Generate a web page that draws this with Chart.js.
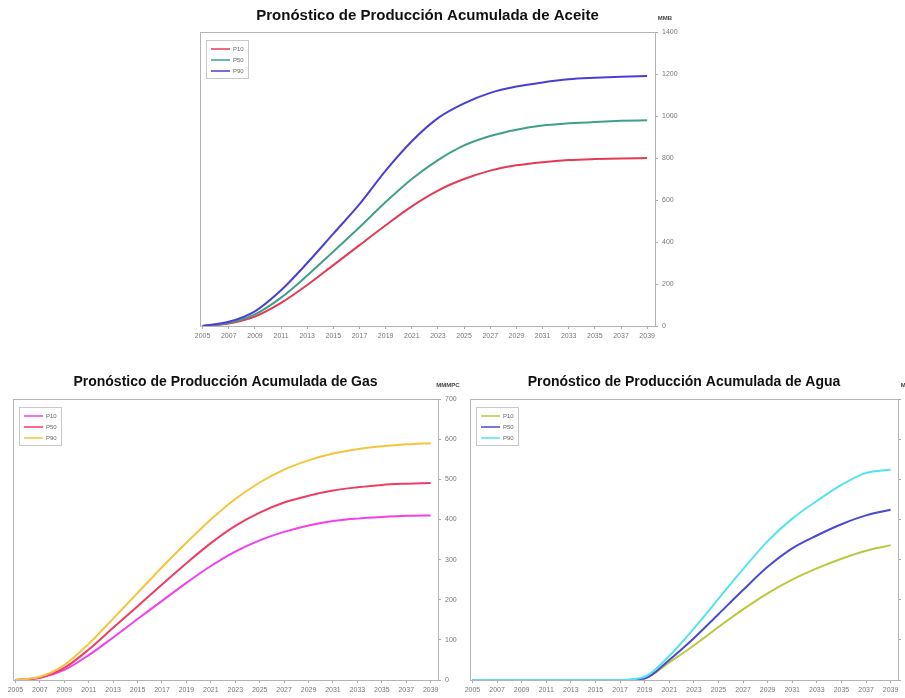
<!DOCTYPE html>
<html>
<head>
<meta charset="utf-8">
<script src="https://cdn.jsdelivr.net/npm/chart.js@4.4.0/dist/chart.umd.min.js"></script>
<style>
  html, body { margin: 0; padding: 0; background: #fff; width: 905px; height: 698px; overflow: hidden; }
  canvas { position: absolute; }
  #oil { left: 170px; top: 0px; }
  #gas { left: 0px; top: 360px; }
  #water { left: 455px; top: 360px; }
</style>
</head>
<body>
<canvas id="oil" width="530" height="350"></canvas>
<canvas id="gas" width="470" height="338"></canvas>
<canvas id="water" width="475" height="338"></canvas>
<script>
const YEARS = [2005, 2007, 2009, 2011, 2013, 2015, 2017, 2019, 2021, 2023, 2025, 2027, 2029, 2031, 2033, 2035, 2037, 2039];
const TICK_YEARS = YEARS;
const SERIES_LABELS = ["P10", "P50", "P90"];

// MMB
const OIL_P10 = [0, 12, 45, 110, 195, 290, 385, 480, 570, 645, 700, 740, 765, 780, 790, 795, 798, 800];
const OIL_P50 = [0, 15, 55, 135, 240, 355, 470, 590, 700, 790, 860, 905, 935, 955, 965, 972, 977, 980];
const OIL_P90 = [0, 20, 70, 170, 300, 440, 580, 740, 880, 990, 1060, 1110, 1140, 1160, 1175, 1182, 1187, 1190];

// MMMPC
const GAS_P10 = [0, 5, 25, 62, 106, 152, 197, 242, 284, 320, 348, 369, 385, 396, 402, 406, 409, 410];
const GAS_P50 = [0, 6, 30, 76, 130, 184, 238, 291, 341, 384, 417, 442, 459, 472, 480, 486, 489, 491];
const GAS_P90 = [0, 8, 37, 90, 153, 217, 281, 342, 400, 451, 492, 524, 547, 564, 575, 582, 587, 590];

const WATER_P10 = [0, 0, 0, 0, 0, 0, 0, 2, 22, 43, 66, 88, 108, 125, 139, 151, 161, 168];
const WATER_P50 = [0, 0, 0, 0, 0, 0, 0, 2, 25, 52, 82, 112, 141, 164, 180, 194, 205, 212];
const WATER_P90 = [0, 0, 0, 0, 0, 0, 0, 4, 30, 64, 101, 138, 173, 201, 223, 243, 258, 262];

const FONT = "'Liberation Sans', Arial, sans-serif";

// frame around the plot area
const framePlugin = {
  id: "frame",
  beforeDatasetsDraw(chart) {
    const { ctx, chartArea: a } = chart;
    ctx.save();
    ctx.strokeStyle = "#b4b4b4";
    ctx.lineWidth = 1;
    ctx.strokeRect(a.left + 0.5, a.top + 0.5, a.right - a.left, a.bottom - a.top);
    ctx.restore();
  },
};

// small boxed legend in the upper-left corner of the plot
const boxLegend = {
  id: "boxLegend",
  afterDraw(chart) {
    const { ctx, chartArea: a } = chart;
    const x = a.left + 6, y = a.top + 8;
    ctx.save();
    ctx.strokeStyle = "#c8c8c8";
    ctx.lineWidth = 1;
    ctx.fillStyle = "#fff";
    ctx.fillRect(x, y, 42, 38);
    ctx.strokeRect(x + 0.5, y + 0.5, 42, 38);
    ctx.font = "6px " + FONT;
    ctx.textBaseline = "middle";
    chart.data.datasets.forEach((ds, i) => {
      const ry = y + 9 + i * 11;
      ctx.strokeStyle = ds.borderColor;
      ctx.lineWidth = 1.5;
      ctx.beginPath();
      ctx.moveTo(x + 5, ry);
      ctx.lineTo(x + 24, ry);
      ctx.stroke();
      ctx.fillStyle = "#666";
      ctx.fillText(ds.label, x + 27, ry);
    });
    ctx.restore();
  },
};

// unit text above the right axis
const unitLabel = {
  id: "unitLabel",
  afterDraw(chart, args, opts) {
    const { ctx, chartArea: a } = chart;
    ctx.save();
    ctx.font = "bold 6px " + FONT;
    ctx.fillStyle = "#444";
    ctx.textAlign = "center";
    ctx.textBaseline = "middle";
    ctx.fillText(opts.text, a.right + 10, a.top - 14);
    ctx.restore();
  },
};

function makeChart(id, title, unit, values, colors, yMax, yStep, pad, titlePad, titleSize) {
  const datasets = values.map((v, i) => ({
    label: SERIES_LABELS[i],
    data: YEARS.map((yr, j) => ({ x: yr, y: v[j] })),
    borderColor: colors[i],
    borderWidth: 2,
    pointRadius: 0,
    cubicInterpolationMode: "monotone",
    fill: false,
    order: 2 - i,
  }));
  return new Chart(document.getElementById(id), {
    type: "line",
    data: { datasets },
    plugins: [framePlugin, boxLegend, unitLabel],
    options: {
      responsive: false,
      animation: false,
      layout: { padding: pad },
      plugins: {
        legend: { display: false },
        tooltip: { enabled: false },
        title: {
          display: true,
          text: title,
          fullSize: false,
          color: "#111",
          font: { family: FONT, size: titleSize, weight: "bold", lineHeight: 1.2 },
          padding: titlePad,
        },
        unitLabel: { text: unit },
      },
      scales: {
        x: {
          type: "linear",
          min: 2004.8,
          max: 2039.6,
          afterBuildTicks: (s) => { s.ticks = TICK_YEARS.map((v) => ({ value: v })); },
          afterFit: (s) => { s.height = pad.xh; },
          grid: { drawOnChartArea: false, drawTicks: true, tickLength: 3, color: "#aaa" },
          border: { display: false },
          ticks: {
            autoSkip: false,
            maxRotation: 0,
            padding: 3,
            color: "#777",
            font: { family: FONT, size: 7 },
            callback: (v) => String(v),
          },
        },
        y: {
          position: "right",
          min: 0,
          max: yMax,
          afterFit: (s) => { s.width = pad.yw; },
          grid: { drawOnChartArea: false, drawTicks: true, tickLength: 3, color: "#aaa" },
          border: { display: false },
          ticks: {
            stepSize: yStep,
            padding: 4,
            color: "#777",
            font: { family: FONT, size: 7 },
            callback: (v) => String(v),
          },
        },
      },
    },
  });
}

makeChart("oil", "Pronóstico de Producción Acumulada de Aceite", "MMB",
  [OIL_P10, OIL_P50, OIL_P90], ["#e43a55", "#3fa08a", "#4a3ed6"],
  1400, 200, { left: 30, right: 7, top: 0, bottom: 4, xh: 20, yw: 38 },
  { top: 7, bottom: 7 }, 15);

makeChart("gas", "Pronóstico de Producción Acumulada de Gas", "MMMPC",
  [GAS_P10, GAS_P50, GAS_P90], ["#f040ee", "#ee3d62", "#f6c43c"],
  700, 100, { left: 13, right: 4, top: 0, bottom: 2, xh: 16, yw: 28 },
  { top: 14, bottom: 8.2 }, 14);

makeChart("water", "Pronóstico de Producción Acumulada de Agua", "MMB",
  [WATER_P10, WATER_P50, WATER_P90], ["#bcc83c", "#4a48d6", "#52e4ee"],
  350, 50, { left: 15, right: 4, top: 0, bottom: 2, xh: 16, yw: 28 },
  { top: 14, bottom: 8.2 }, 14);
</script>
</body>
</html>
